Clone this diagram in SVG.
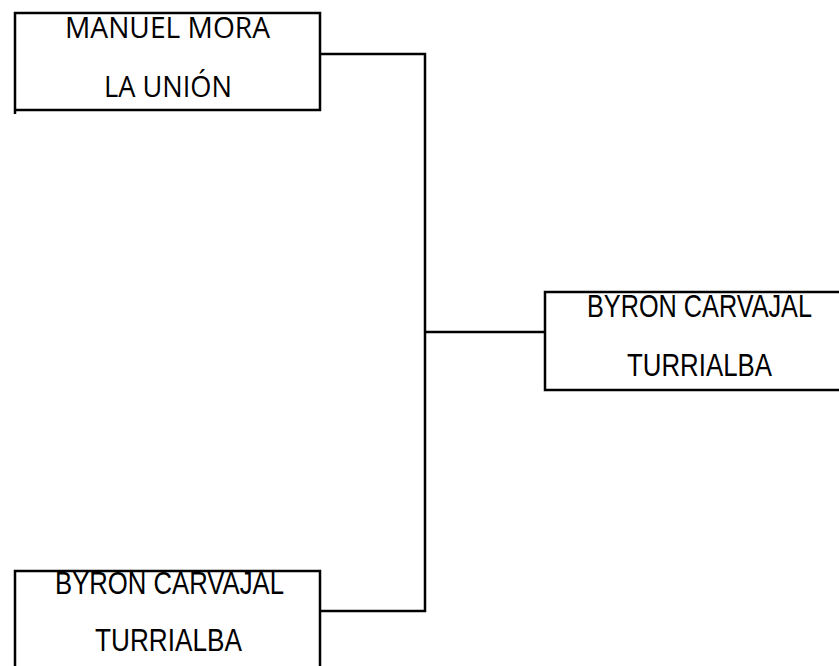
<svg xmlns="http://www.w3.org/2000/svg" width="839" height="666" viewBox="0 0 839 666">
<style>
.box{fill:#fff;stroke:#000;stroke-width:2.5}
.ln{fill:none;stroke:#000;stroke-width:2.5}
.t{font-family:"Liberation Sans",Arial,sans-serif;font-size:30.5px;fill:#000;text-anchor:middle}
.c{font-family:"Open Sans","Liberation Sans",sans-serif;font-size:30px;fill:#000;text-anchor:middle}
</style>
<rect width="839" height="666" fill="#fff"/>
<g id="connectors">
<path class="ln" d="M320,54 H425 V611 H320"/>
<path class="ln" d="M425,332 H545"/>
</g>
<g id="node-manuel-mora">
<path class="box" d="M15,114 V13 H320 V110 H15"/>
<text class="c" x="167.5" y="37.5" textLength="205" lengthAdjust="spacingAndGlyphs">MANUEL MORA</text>
<text class="c" x="168" y="96.5" textLength="128" lengthAdjust="spacingAndGlyphs">LA UNIÓN</text>
</g>
<g id="node-byron-right">
<rect class="box" x="545" y="292" width="310" height="98"/>
<text class="t" x="699.5" y="317" textLength="225" lengthAdjust="spacingAndGlyphs">BYRON CARVAJAL</text>
<text class="t" x="699.5" y="376" textLength="145" lengthAdjust="spacingAndGlyphs">TURRIALBA</text>
</g>
<g id="node-byron-bottom">
<rect class="box" x="15" y="571" width="305" height="120"/>
<text class="t" x="169.5" y="594" textLength="229" lengthAdjust="spacingAndGlyphs">BYRON CARVAJAL</text>
<text class="t" x="168.5" y="651" textLength="147" lengthAdjust="spacingAndGlyphs">TURRIALBA</text>
</g>
</svg>
